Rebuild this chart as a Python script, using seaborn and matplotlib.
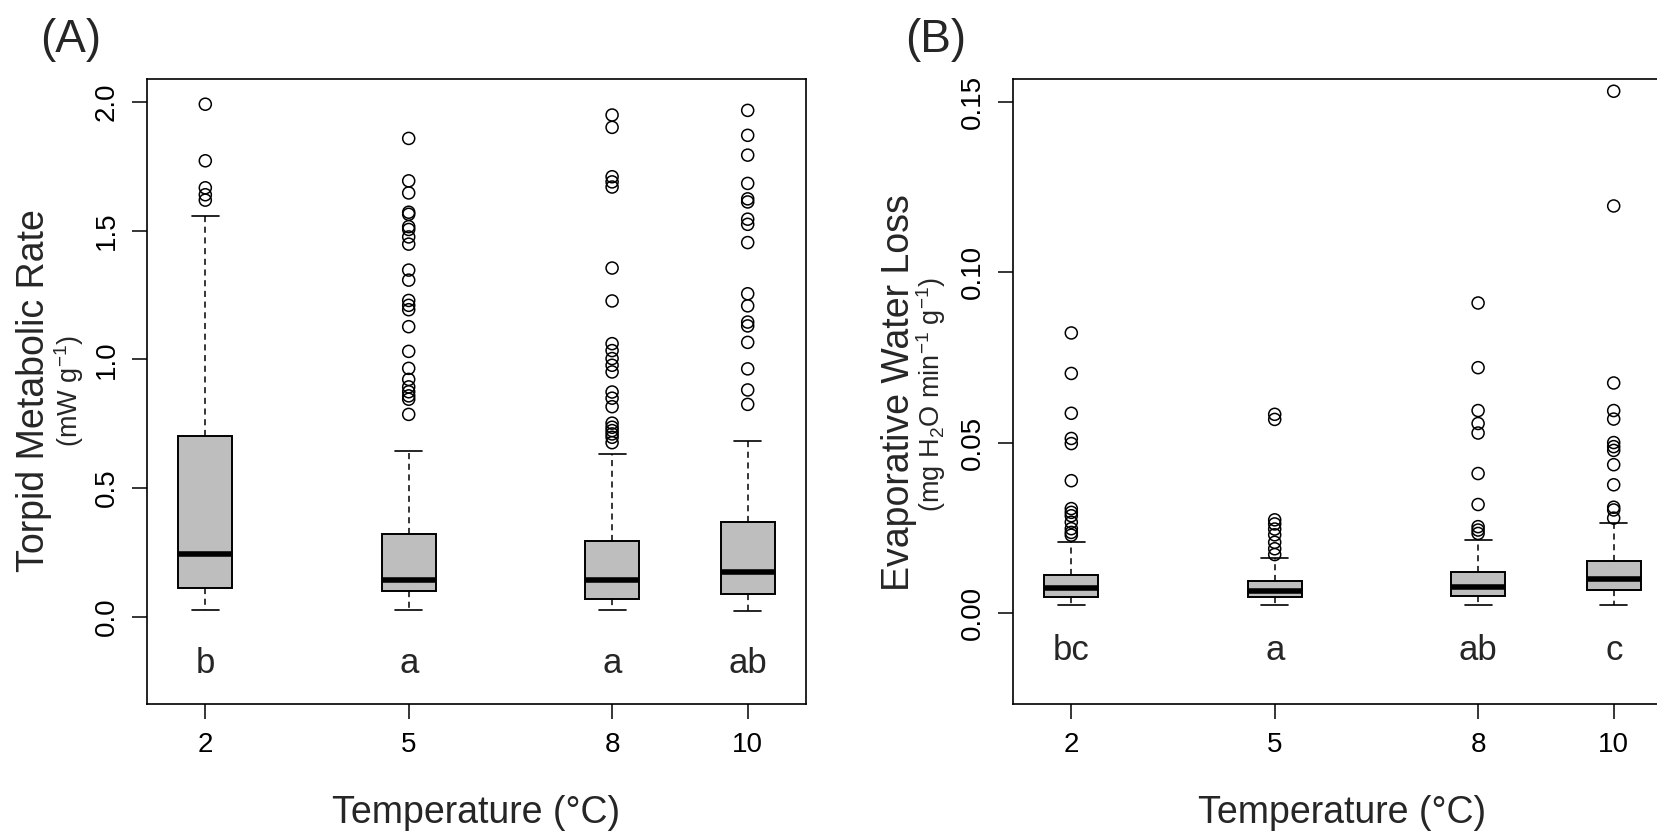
import numpy as np
import pandas as pd
import matplotlib
matplotlib.use("Agg")
import matplotlib.pyplot as plt
import seaborn as sns

# temperatures (x positions on a numeric axis)
temps = [2, 5, 8, 10]

# (A) torpid metabolic rate, mW g-1 : box summaries
tmr_whislo = [0.025, 0.025, 0.025, 0.023]
tmr_q1 = [0.110, 0.098, 0.069, 0.088]
tmr_med = [0.245, 0.143, 0.143, 0.173]
tmr_q3 = [0.703, 0.322, 0.295, 0.368]
tmr_whishi = [1.556, 0.645, 0.632, 0.682]
tmr_out_2 = [1.619, 1.640, 1.667, 1.772, 1.992]
tmr_out_5 = [0.786, 0.845, 0.858, 0.874, 0.893, 0.922, 0.965, 1.031, 1.127,
             1.193, 1.210, 1.229, 1.308, 1.347, 1.448, 1.476, 1.505, 1.516,
             1.564, 1.572, 1.647, 1.694, 1.859]
tmr_out_8 = [0.676, 0.697, 0.710, 0.723, 0.736, 0.752, 0.816, 0.849, 0.873,
             0.951, 0.977, 1.003, 1.034, 1.061, 1.227, 1.355, 1.670, 1.690,
             1.710, 1.902, 1.950]
tmr_out_10 = [0.825, 0.881, 0.963, 1.066, 1.130, 1.145, 1.208, 1.255, 1.454,
              1.525, 1.545, 1.612, 1.624, 1.684, 1.794, 1.871, 1.968]
tmr_letters = ["b", "a", "a", "ab"]

# (B) evaporative water loss, mg H2O min-1 g-1
ewl_whislo = [0.0023, 0.0023, 0.0023, 0.0023]
ewl_q1 = [0.0046, 0.0047, 0.0050, 0.0068]
ewl_med = [0.0073, 0.0063, 0.0077, 0.0099]
ewl_q3 = [0.0112, 0.0093, 0.0120, 0.0152]
ewl_whishi = [0.0208, 0.0160, 0.0213, 0.0264]
ewl_out_2 = [0.0228, 0.0236, 0.0247, 0.0266, 0.0285, 0.0295, 0.0306,
             0.0388, 0.0497, 0.0512, 0.0586, 0.0703, 0.0822]
ewl_out_5 = [0.0171, 0.0188, 0.0207, 0.0229, 0.0246, 0.0261, 0.0273,
             0.0568, 0.0583]
ewl_out_8 = [0.0233, 0.0243, 0.0253, 0.0318, 0.0409, 0.0528, 0.0556,
             0.0594, 0.0720, 0.0910]
ewl_out_10 = [0.0278, 0.0302, 0.0310, 0.0376, 0.0435, 0.0477, 0.0488,
              0.0500, 0.0569, 0.0594, 0.0675, 0.1195, 0.1532]
ewl_letters = ["bc", "a", "ab", "c"]

sns.set_theme(style="ticks")
plt.rcParams['font.family'] = ['Liberation Sans', 'DejaVu Sans']
plt.rcParams['mathtext.default'] = 'regular'

W, H = 1658, 835
fig = plt.figure(figsize=(W / 100, H / 100), dpi=100)


def make_stats(lo, q1, med, q3, hi):
    return [dict(whislo=a, q1=b, med=c, q3=d, whishi=e, fliers=[])
            for a, b, c, d, e in zip(lo, q1, med, q3, hi)]


def outlier_frame(groups):
    rows = []
    for t, vals in zip(temps, groups):
        for v in vals:
            rows.append((t, v))
    return pd.DataFrame(rows, columns=["temp", "value"])


def panel(left, stats, out_df, ylim, yticks, ytick_lbls, letters, letter_y):
    ax = fig.add_axes([left / W, (H - 704) / H, 659 / W, 625 / H])
    ax.bxp(stats, positions=temps, widths=0.8, patch_artist=True,
           showfliers=False, capwidths=0.4,
           boxprops=dict(facecolor="#bebebe", edgecolor="black", linewidth=1.4),
           medianprops=dict(color="black", linewidth=4.0, solid_capstyle="butt"),
           whiskerprops=dict(color="black", linewidth=1.1, linestyle=(0, (4, 3))),
           capprops=dict(color="black", linewidth=1.2))
    sns.scatterplot(data=out_df, x="temp", y="value", ax=ax, marker="o",
                    s=75, facecolor="none", edgecolor="black", linewidth=1.1,
                    zorder=3)
    for t, lab in zip(temps, letters):
        ax.text(t, letter_y, lab, ha="center", va="center", fontsize=25)
    ax.set_xlim(1.14, 10.86)
    ax.set_ylim(*ylim)
    ax.set_xticks(temps)
    ax.set_xticklabels([str(t) for t in temps])
    ax.set_yticks(yticks)
    ax.set_yticklabels(ytick_lbls)
    ax.set_xlabel("")
    ax.set_ylabel("")
    ax.tick_params(axis="both", direction="out", length=11, width=1.1,
                   labelsize=20, color="black", labelcolor="black")
    ax.tick_params(axis="x", pad=9.5)
    ax.tick_params(axis="y", pad=8.5, labelrotation=90)
    for lab in ax.get_yticklabels():
        lab.set_va("center")
    for sp in ax.spines.values():
        sp.set_visible(True)
        sp.set_linewidth(1.2)
        sp.set_color("black")
    return ax


stats_a = make_stats(tmr_whislo, tmr_q1, tmr_med, tmr_q3, tmr_whishi)
out_a = outlier_frame([tmr_out_2, tmr_out_5, tmr_out_8, tmr_out_10])
panel(147, stats_a, out_a, (-0.34, 2.09), [0, 0.5, 1.0, 1.5, 2.0],
      ["0.0", "0.5", "1.0", "1.5", "2.0"], tmr_letters, -0.183)

stats_b = make_stats(ewl_whislo, ewl_q1, ewl_med, ewl_q3, ewl_whishi)
out_b = outlier_frame([ewl_out_2, ewl_out_5, ewl_out_8, ewl_out_10])
panel(1013, stats_b, out_b, (-0.0268, 0.1568), [0, 0.05, 0.10, 0.15],
      ["0.00", "0.05", "0.10", "0.15"], ewl_letters, -0.0112)

# axis titles
fig.text(476 / W, 1 - 813 / H, "Temperature (°C)", ha="center", va="center", fontsize=27)
fig.text(1342 / W, 1 - 813 / H, "Temperature (°C)", ha="center", va="center", fontsize=27)
fig.text(34 / W, 1 - 391 / H, "Torpid Metabolic Rate", rotation=90,
         ha="center", va="center", fontsize=27)
fig.text(69 / W, 1 - 391 / H, r"(mW g$^{-1}$)", rotation=90,
         ha="center", va="center", fontsize=19.5)
fig.text(899 / W, 1 - 393 / H, "Evaporative Water Loss", rotation=90,
         ha="center", va="center", fontsize=27)
fig.text(931 / W, 1 - 394 / H, r"(mg H$_2$O min$^{-1}$ g$^{-1}$)", rotation=90,
         ha="center", va="center", fontsize=19.5)

# panel tags
fig.text(71 / W, 1 - 40 / H, "(A)", ha="center", va="center", fontsize=33)
fig.text(936 / W, 1 - 40 / H, "(B)", ha="center", va="center", fontsize=33)

fig.savefig("out.png", dpi=100)
